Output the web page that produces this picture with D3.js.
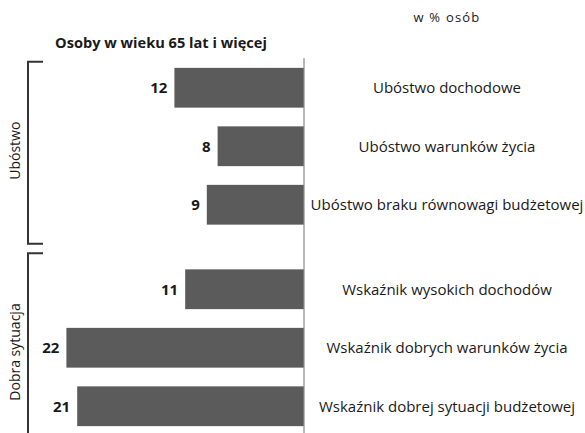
<!DOCTYPE html>
<html>
<head>
<meta charset="utf-8">
<script src="https://cdn.jsdelivr.net/npm/d3@7"></script>
<style>
  body { margin: 0; background: #fff; }
  text { font-family: "Open Sans", "Noto Sans", sans-serif; fill: #1a1a1a; }
</style>
</head>
<body>
<svg id="chart" width="585" height="433"></svg>
<script>
var categories = [
    "Ubóstwo dochodowe",
    "Ubóstwo warunków życia",
    "Ubóstwo braku równowagi budżetowej",
    "Wskaźnik wysokich dochodów",
    "Wskaźnik dobrych warunków życia",
    "Wskaźnik dobrej sytuacji budżetowej"
];
var values = [12, 8, 9, 11, 22, 21];
var groupOf = [0, 0, 0, 1, 1, 1];
var groupNames = ["Ubóstwo", "Dobra sytuacja"];
var title = "Osoby w wieku 65 lat i więcej";
var unitLabel = "w % osób";

var svg = d3.select("#chart");
var W = +svg.attr("width"), H = +svg.attr("height");

var zeroX = 304, groupGap = 26;

var x = d3.scaleLinear()
    .domain([0, 25])
    .range([zeroX, zeroX - 270]);

var yb = d3.scaleBand()
    .domain(categories)
    .range([58.5, 409.5])
    .paddingInner(0.32)
    .paddingOuter(0.16);

function y(c){
    return yb(c) + groupOf[categories.indexOf(c)] * groupGap;
}

var data = categories.map(function(c, i){ return {cat: c, value: values[i], group: groupOf[i]}; });

// bars
svg.append("g").selectAll("rect")
    .data(data)
    .enter().append("rect")
    .attr("x", function(d){ return x(d.value); })
    .attr("y", function(d){ return y(d.cat); })
    .attr("width", function(d){ return x(0) - x(d.value); })
    .attr("height", yb.bandwidth())
    .attr("fill", "#5b5b5b");

// zero line
svg.append("line")
    .attr("x1", x(0)).attr("x2", x(0))
    .attr("y1", 58).attr("y2", H)
    .attr("stroke", "#8c8c8c")
    .attr("stroke-width", 1.2);

// value labels
svg.append("g").selectAll("text")
    .data(data)
    .enter().append("text")
    .attr("x", function(d){ return x(d.value) - 7; })
    .attr("y", function(d){ return y(d.cat) + yb.bandwidth() / 2; })
    .attr("dy", "0.35em")
    .attr("text-anchor", "end")
    .attr("font-size", 15)
    .attr("font-weight", "bold")
    .text(function(d){ return d.value; });

// category labels
svg.append("g").selectAll("text")
    .data(data)
    .enter().append("text")
    .attr("x", 447)
    .attr("y", function(d){ return y(d.cat) + yb.bandwidth() / 2; })
    .attr("dy", "0.35em")
    .attr("text-anchor", "middle")
    .attr("font-size", 15)
    .text(function(d){ return d.cat; });

// title + unit
svg.append("text")
    .attr("x", 161).attr("y", 43)
    .attr("dy", "0.35em")
    .attr("text-anchor", "middle")
    .attr("font-size", 14.6)
    .attr("font-weight", "bold")
    .text(title);

svg.append("text")
    .attr("x", 447).attr("y", 17)
    .attr("dy", "0.35em")
    .attr("text-anchor", "middle")
    .attr("font-size", 13)
    .attr("letter-spacing", 1.2)
    .text(unitLabel);

// group brackets
var bx = 28, tick = 15;
groupNames.forEach(function(name, gi){
    var cats = categories.filter(function(c, i){ return groupOf[i] === gi; });
    var top = gi === 0 ? y(cats[0]) - 6 : y(cats[0]) - 16;
    var bottom = gi === 0 ? y(cats[cats.length - 1]) + yb.bandwidth() + 19 : H + 10;
    svg.append("path")
        .attr("d", "M" + (bx + tick) + "," + top + "H" + bx + "V" + bottom + "H" + (bx + tick))
        .attr("fill", "none")
        .attr("stroke", "#333")
        .attr("stroke-width", 2);
    var cy = gi === 0 ? (top + bottom) / 2 - 2 : 352;
    svg.append("text")
        .attr("transform", "translate(15," + cy + ") rotate(-90)")
        .attr("dy", "0.35em")
        .attr("text-anchor", "middle")
        .attr("font-size", 14)
        .text(name);
});
</script>
</body>
</html>
